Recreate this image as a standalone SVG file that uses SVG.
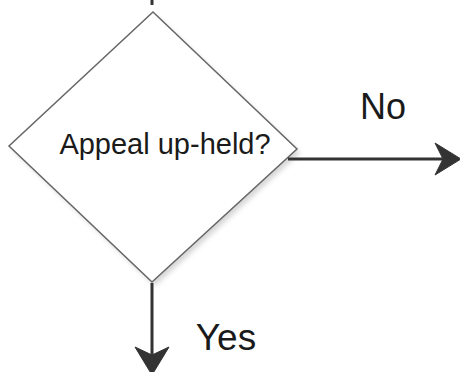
<svg xmlns="http://www.w3.org/2000/svg" width="460" height="372" viewBox="0 0 460 372">
<defs>
<filter id="sh" x="-20%" y="-20%" width="140%" height="140%"><feGaussianBlur stdDeviation="2.5"/></filter>
<style>
.lbl{font-family:"Liberation Sans",Arial,sans-serif;fill:#1a1a1a}
.edge{stroke:#333;stroke-width:3;fill:none}
.head{fill:#333;stroke:#333;stroke-width:1;stroke-linejoin:miter}
</style>
</defs>
<rect width="460" height="372" fill="#fff"/>
<g id="decision">
<polygon points="156,16 300,153 155,286 12,149" fill="#ccc" filter="url(#sh)" opacity="0.8"/>
<polygon points="153,12 297,149 152,282 9,146" fill="#fff" stroke="#666" stroke-width="1.5"/>
<text class="lbl" x="165" y="154" font-size="29" text-anchor="middle">Appeal up-held?</text>
</g>
<g id="connectors">
<line class="edge" x1="152" y1="0" x2="152" y2="5" stroke-width="2"/>
<line class="edge" x1="288" y1="159" x2="448" y2="159"/>
<polygon class="head" points="461,159 435,143 443,159 435,175"/>
<text class="lbl" x="383" y="119" font-size="36" text-anchor="middle">No</text>
<line class="edge" x1="152" y1="283" x2="152" y2="362"/>
<polygon class="head" points="152,375 135,347 152,355 169,347"/>
<text class="lbl" x="226" y="350" font-size="37" text-anchor="middle">Yes</text>
</g>
</svg>
